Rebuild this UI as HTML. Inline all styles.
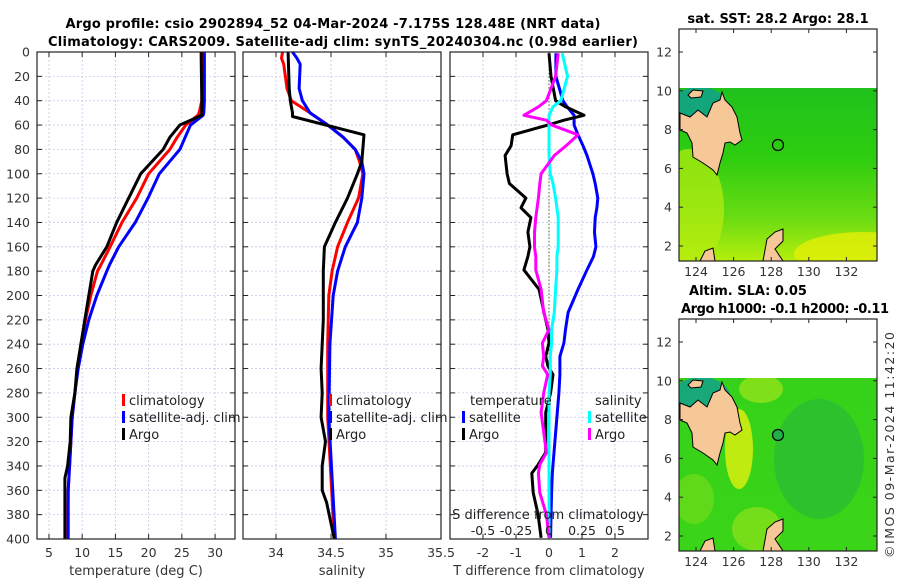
<!DOCTYPE html>
<html><head><meta charset="utf-8">
<style>
html,body{margin:0;padding:0;background:#fff;}
svg{display:block;font-family:"DejaVu Sans","Liberation Sans",sans-serif;}
</style></head>
<body>
<svg id="fig" width="900" height="580" viewBox="0 0 900 580">
<text x="333" y="28" font-size="13" font-weight="bold" text-anchor="middle" textLength="535">Argo profile: csio 2902894_52 04-Mar-2024 -7.175S 128.48E (NRT data)</text>
<text x="343" y="46" font-size="13" font-weight="bold" text-anchor="middle" textLength="590">Climatology: CARS2009. Satellite-adj clim: synTS_20240304.nc (0.98d earlier)</text>
<g id="p1"></g><g id="p2"></g><g id="p3"></g><g id="maps"></g>
<text transform="translate(894,445) rotate(-90)" font-size="12.5" text-anchor="middle" textLength="226" fill="#333">©IMOS 09-Mar-2024 11:42:20</text>
</svg>
<script>
// ---- Panel data (depth in m) ----
const tDepth   = [0,40,50,52,60,70,80,100,120,140,160,175,180,200,220,240,260,280,300,320,340,350,360,400];
const tClim    = [28.2,28.0,27.6,27.4,25.6,24.3,23.2,20.0,18.2,16.0,14.2,12.8,12.3,11.3,10.5,9.8,9.3,8.9,8.5,8.3,8.1,8.0,7.9,7.8];
const tSat     = [28.4,28.4,28.3,28.2,26.3,25.5,24.7,21.6,19.9,18.0,15.5,14.1,13.7,12.2,11.0,10.1,9.4,8.9,8.5,8.3,8.1,8.0,7.9,7.9];
const tArgo    = [27.9,28.0,28.0,28.0,24.7,23.2,22.2,18.8,17.0,15.2,13.7,12.0,11.6,11.0,10.4,9.8,9.2,8.9,8.3,8.2,7.8,7.4,7.4,7.4];

const sDepth   = [0,5,10,30,40,50,60,70,80,90,100,120,140,160,180,200,240,300,400];
const sClim    = [34.06,34.05,34.07,34.10,34.14,34.31,34.47,34.61,34.72,34.76,34.79,34.75,34.65,34.56,34.51,34.48,34.47,34.47,34.53];
const sSat     = [34.15,34.19,34.22,34.21,34.24,34.31,34.47,34.61,34.72,34.78,34.80,34.78,34.74,34.63,34.56,34.52,34.49,34.48,34.54];
const aDepth   = [0,30,40,50,53,68,90,100,120,140,160,180,200,220,240,260,280,300,320,340,360,370,400];
const sArgo    = [34.11,34.12,34.13,34.15,34.15,34.80,34.78,34.74,34.65,34.54,34.44,34.43,34.43,34.43,34.42,34.41,34.42,34.41,34.45,34.42,34.42,34.46,34.53];

const dDepth   = [1,20,40,45,52,56,60,68,77,85,100,108,120,128,136,148,160,168,179,195,214,228,239,250,258,265,280,296,329,339,346,362,380,399];
const dTArgo   = [0,0.06,0.2,0.5,1.06,0.45,-0.03,-1.1,-1.15,-1.33,-1.27,-1.2,-0.7,-0.85,-0.55,-0.64,-0.58,-0.64,-0.76,-0.3,-0.15,-0.03,0,-0.1,-0.03,0.12,0.05,-0.1,-0.1,-0.33,-0.52,-0.48,-0.33,-0.24];
const dTSat    = [0.21,0.21,0.42,0.55,0.76,0.76,0.76,0.88,1.03,1.15,1.33,1.4,1.48,1.45,1.4,1.38,1.42,1.35,1.15,0.88,0.58,0.5,0.45,0.33,0.33,0.33,0.3,0.25,0.15,0.12,0.1,0.08,0.06,0.05];
const dSArgo   = [0.07,0.05,-0.02,-0.08,-0.19,-0.02,0.02,0.22,0.13,0.04,-0.06,-0.07,-0.08,-0.09,-0.1,-0.11,-0.11,-0.1,-0.1,-0.06,-0.04,0,-0.05,-0.04,-0.05,-0.01,-0.04,-0.06,-0.02,-0.07,-0.08,-0.07,-0.02,0];
const dSSat    = [0.1,0.14,0.09,0.03,0,0,0,0,0,0,0.01,0.03,0.05,0.06,0.07,0.07,0.07,0.06,0.06,0.05,0.04,0.02,0.02,0.01,0.01,0.01,0,0,0,0,0,0,0,0];

const depthTicks = [0,20,40,60,80,100,120,140,160,180,200,220,240,260,280,300,320,340,360,380,400];
const tTicks  = [5,10,15,20,25,30];
const sTicks  = ['34','34.5','35','35.5'];
const dTicks  = ['-2','-1','0','1','2'];
const dsTicks = ['-0.5','-0.25','0','0.25','0.5'];
const latTicks = [2,4,6,8,10,12];
const lonTicks = [124,126,128,130,132];

const NS='http://www.w3.org/2000/svg';
function mk(tag,attrs,parent,txt){const e=document.createElementNS(NS,tag);for(const k in attrs)e.setAttribute(k,attrs[k]);if(txt!==undefined)e.textContent=txt;parent.appendChild(e);return e;}

const Y0=52,Y1=539;
const yD=d=>Y0+d/400*(Y1-Y0);

function panel(g,x0,x1,xmin,xmax,xticks,xlabel,showY,name){
  const xs=v=>x0+(v-xmin)/(xmax-xmin)*(x1-x0);
  const bg=mk('rect',{x:x0,y:Y0,width:x1-x0,height:Y1-Y0,fill:'#fff'},g);
  
  
  depthTicks.forEach(d=>{
    if(d>0&&d<400){const l=mk('line',{x1:x0,x2:x1,y1:yD(d),y2:yD(d),stroke:'#c4c8ec','stroke-width':0.8,'stroke-dasharray':'2,2'},g);
    
    }
    mk('line',{x1:x0,x2:x0+5,y1:yD(d),y2:yD(d),stroke:'#222'},g);
    mk('line',{x1:x1-5,x2:x1,y1:yD(d),y2:yD(d),stroke:'#222'},g);
    if(showY){const t=mk('text',{x:x0-7,y:yD(d)+4.5,'font-size':12.5,'text-anchor':'end',fill:'#333'},g,String(d));
    
    }
  });
  xticks.forEach(v=>{
    const x=xs(parseFloat(v));
    const l=mk('line',{x1:x,x2:x,y1:Y0,y2:Y1,stroke:'#c4c8ec','stroke-width':0.8,'stroke-dasharray':'2,2'},g);
    
    
    mk('line',{x1:x,x2:x,y1:Y1-5,y2:Y1,stroke:'#222'},g);
    mk('line',{x1:x,x2:x,y1:Y0,y2:Y0+5,stroke:'#222'},g);
    const t=mk('text',{x:x,y:557,'font-size':12.5,'text-anchor':'middle',fill:'#333'},g,String(v));
    
    
  });
  const xl=mk('text',{x:(x0+x1)/2,y:575,'font-size':13,'text-anchor':'middle',fill:'#333'},g,xlabel);
  
  
  return xs;
}
function line(g,xs,depths,vals,color,name){
  const pts=depths.map((d,i)=>xs(vals[i]).toFixed(1)+','+yD(d).toFixed(1)).join(' ');
  const p=mk('polyline',{points:pts,fill:'none',stroke:color,'stroke-width':3,'stroke-linejoin':'round'},g);
  
  
}
function frame(g,x0,x1){mk('rect',{x:x0,y:Y0,width:x1-x0,height:Y1-Y0,fill:'none',stroke:'#222','stroke-width':1.2},g);}
function legend(g,x,y,color,label,name){
  mk('rect',{x:x,y:y-11,width:3,height:12,fill:color},g);
  const t=mk('text',{x:x+7,y:y,'font-size':13,fill:'#222'},g,label);
  
  
}

// Panel 1
const g1=document.getElementById('p1');


const xT=panel(g1,37,235,3.2,33,tTicks,'temperature (deg C)',true,'temperature');
line(g1,xT,tDepth,tClim,'#f00','temp-climatology-line');
line(g1,xT,tDepth,tSat,'#00f','temp-satellite-line');
line(g1,xT,tDepth,tArgo,'#000','temp-argo-line');
frame(g1,37,235);
legend(g1,122,405,'#f00','climatology','legend-climatology');
legend(g1,122,422,'#00f','satellite-adj. clim','legend-satellite-adj');
legend(g1,122,439,'#000','Argo','legend-argo');

// Panel 2
const g2=document.getElementById('p2');


const xS=panel(g2,243,441,33.7,35.5,sTicks,'salinity',false,'salinity');
line(g2,xS,sDepth,sClim,'#f00','sal-climatology-line');
line(g2,xS,sDepth,sSat,'#00f','sal-satellite-line');
line(g2,xS,aDepth,sArgo,'#000','sal-argo-line');
frame(g2,243,441);
legend(g2,329,405,'#f00','climatology','legend-climatology-2');
legend(g2,329,422,'#00f','satellite-adj. clim','legend-satellite-adj-2');
legend(g2,329,439,'#000','Argo','legend-argo-2');

// Panel 3
const g3=document.getElementById('p3');


const xDT=panel(g3,450,648,-3,3,dTicks,'T difference from climatology',false,'difference');
const xDS=v=>450+(v+0.75)/1.5*198;
const zl=mk('line',{x1:xDT(0),x2:xDT(0),y1:Y0,y2:Y1,stroke:'#556b2f','stroke-width':1,'stroke-dasharray':'1.5,2'},g3);


line(g3,xDT,dDepth,dTSat,'#00f','tdiff-satellite-line');
line(g3,xDT,dDepth,dTArgo,'#000','tdiff-argo-line');
line(g3,xDS,dDepth,dSSat,'#0ff','sdiff-satellite-line');
line(g3,xDS,dDepth,dSArgo,'#f0f','sdiff-argo-line');
frame(g3,450,648);
const lt=mk('text',{x:470,y:405,'font-size':13,fill:'#222'},g3,'temperature');


const ls=mk('text',{x:595,y:405,'font-size':13,fill:'#222'},g3,'salinity');


legend(g3,462,422,'#00f','satellite','legend-t-satellite');
legend(g3,462,439,'#000','Argo','legend-t-argo');
legend(g3,588,422,'#0ff','satellite','legend-s-satellite');
legend(g3,588,439,'#f0f','Argo','legend-s-argo');
const st=mk('text',{x:548,y:519,'font-size':13,'text-anchor':'middle',fill:'#222'},g3,'S difference from climatology');


dsTicks.forEach(v=>{
  const t=mk('text',{x:xDS(parseFloat(v)),y:535,'font-size':12.5,'text-anchor':'middle',fill:'#222'},g3,v);
  
  
});

// Maps
const gm=document.getElementById('maps');
const land=[[43,63],[46,71],[53,78],[58,88],[61,104],[63,111],[56,116],[51,113],[46,114],[44,124],[41,134],[38,146],[34,141],[24,134],[14,128],[13,114],[8,104],[1,101],[1,84],[11,88],[19,81],[28,88],[31,81],[34,74],[41,71]];
function map(y0,title,title2,variant,name){
  const X0=679,W=198,H=232;
  const g=mk('g',{},gm);
  
  
  const id='cl'+variant;
  const defs=mk('defs',{},g);
  const cp=mk('clipPath',{id:id},defs);mk('rect',{x:X0,y:y0+59,width:W,height:H-59},cp);
  const lg=mk('linearGradient',{id:'lg'+variant,x1:0,y1:0,x2:0,y2:1},defs);
  if(variant===1){
    mk('stop',{offset:'0','stop-color':'#1fc21c'},lg);mk('stop',{offset:'0.4','stop-color':'#2ecd10'},lg);
    mk('stop',{offset:'0.75','stop-color':'#6adc12'},lg);mk('stop',{offset:'1','stop-color':'#b6ee0c'},lg);
  } else {
    mk('stop',{offset:'0','stop-color':'#36d21a'},lg);mk('stop',{offset:'1','stop-color':'#3ad418'},lg);
  }
  const cg=mk('g',{'clip-path':'url(#'+id+')'},g);
  mk('rect',{x:X0,y:y0+59,width:W,height:H-59,fill:'url(#lg'+variant+')'},cg);
  if(variant===1){
    mk('ellipse',{cx:X0+10,cy:y0+180,rx:35,ry:60,fill:'#b8ec10',opacity:0.7},cg);
    mk('ellipse',{cx:X0+185,cy:y0+225,rx:70,ry:22,fill:'#e4ef08',opacity:0.8},cg);
    mk('ellipse',{cx:X0+20,cy:y0+80,rx:30,ry:22,fill:'#13a67a'},cg);
  } else {
    mk('ellipse',{cx:X0+140,cy:y0+140,rx:45,ry:60,fill:'#26b83a',opacity:0.6},cg);
    mk('ellipse',{cx:X0+60,cy:y0+130,rx:14,ry:40,fill:'#d8ee10',opacity:0.85},cg);
    mk('ellipse',{cx:X0+82,cy:y0+70,rx:22,ry:14,fill:'#9ee41a',opacity:0.7},cg);
    mk('ellipse',{cx:X0+78,cy:y0+210,rx:25,ry:22,fill:'#9ee41a',opacity:0.6},cg);
    mk('ellipse',{cx:X0+15,cy:y0+180,rx:20,ry:25,fill:'#7ade1a',opacity:0.6},cg);
    mk('ellipse',{cx:X0+22,cy:y0+80,rx:30,ry:22,fill:'#18a87a'},cg);
  }
  const lp=mk('polygon',{points:land.map(p=>(X0+p[0])+','+(y0+p[1])).join(' '),fill:'#f6c898',stroke:'#000','stroke-width':1},cg);
  
  
  mk('polygon',{points:[[9,66],[14,61],[24,62],[22,68],[12,69]].map(p=>(X0+p[0])+','+(y0+p[1])).join(' '),fill:'#f6c898',stroke:'#000','stroke-width':1},cg);
  mk('polygon',{points:[[84,232],[88,210],[96,203],[104,200],[104,212],[96,220],[104,232]].map(p=>(X0+p[0])+','+(y0+p[1])).join(' '),fill:'#f6c898',stroke:'#000','stroke-width':1},cg);
  mk('polygon',{points:[[21,232],[26,222],[34,219],[36,232]].map(p=>(X0+p[0])+','+(y0+p[1])).join(' '),fill:'#f6c898',stroke:'#000','stroke-width':1},cg);
  const c=mk('circle',{cx:X0+99,cy:y0+116,r:5.5,fill:variant===2?'#1fb04a':'none',stroke:'#000','stroke-width':1.2},g);
  
  
  mk('rect',{x:X0,y:y0,width:W,height:H,fill:'none',stroke:'#222','stroke-width':1.2},g);
  const lat=v=>y0+23+(12-v)*19.4;
  latTicks.forEach(v=>{
    mk('line',{x1:X0,x2:X0+4,y1:lat(v),y2:lat(v),stroke:'#222'},g);
    mk('line',{x1:X0+W-4,x2:X0+W,y1:lat(v),y2:lat(v),stroke:'#222'},g);
    const t=mk('text',{x:X0-7,y:lat(v)+4.5,'font-size':12.5,'text-anchor':'end',fill:'#333'},g,String(v));
    
    
  });
  const lon=v=>696+(v-124)*18.8;
  lonTicks.forEach(v=>{
    mk('line',{x1:lon(v),x2:lon(v),y1:y0+H-4,y2:y0+H,stroke:'#222'},g);
    mk('line',{x1:lon(v),x2:lon(v),y1:y0,y2:y0+4,stroke:'#222'},g);
    const t=mk('text',{x:lon(v),y:y0+H+15,'font-size':12.5,'text-anchor':'middle',fill:'#333'},g,String(v));
    
    
  });
  return g;
}
const m1=map(29,'','',1,'sst-map');
const t1=mk('text',{x:778,y:23,'font-size':13,'font-weight':'bold','text-anchor':'middle'},gm,'sat. SST: 28.2 Argo: 28.1');


const m2=map(319,'','',2,'sla-map');
const t2=mk('text',{x:748,y:295,'font-size':13,'font-weight':'bold','text-anchor':'middle'},gm,'Altim. SLA: 0.05');


const t3=mk('text',{x:785,y:313,'font-size':13,'font-weight':'bold','text-anchor':'middle',textLength:208},gm,'Argo h1000: -0.1 h2000: -0.11');


</script>
</body></html>
